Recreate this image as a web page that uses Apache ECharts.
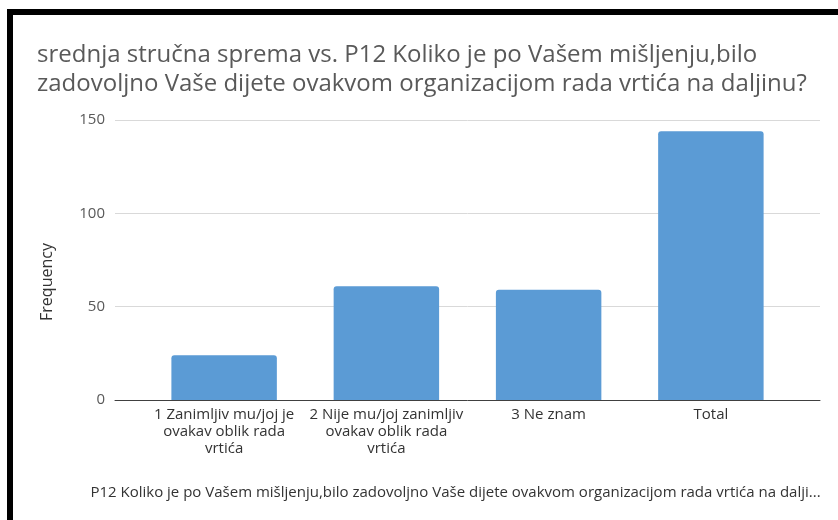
<!DOCTYPE html>
<html>
<head>
<meta charset="utf-8">
<script src="https://cdn.jsdelivr.net/npm/echarts@6/dist/echarts.min.js"></script>
<style>
  html, body { margin: 0; padding: 0; background: #fff; }
  #wrap { position: relative; width: 838px; height: 520px; }
  #chart { width: 838px; height: 520px; }
  #frame {
    position: absolute; left: 7px; top: 9px; right: 0; bottom: 0;
    border-top: 6px solid #000; border-left: 6px solid #000;
    pointer-events: none;
  }
</style>
</head>
<body>
<div id="wrap">
  <div id="chart"></div>
  <div id="frame"></div>
</div>
<script>
// chart data
const chartTitle = 'srednja stručna sprema vs. P12 Koliko je po Vašem mišljenju,bilo\nzadovoljno Vaše dijete ovakvom organizacijom rada vrtića na daljinu?'
const categories = [
  '1 Zanimljiv mu/joj je\novakav oblik rada\nvrtića',
  '2 Nije mu/joj zanimljiv\novakav oblik rada\nvrtića',
  '3 Ne znam',
  'Total'
]
const frequency = [24, 61, 59, 144]
const yMin = 0
const yMax = 150
const yStep = 50
const yName = 'Frequency'
const xName = 'P12 Koliko je po Vašem mišljenju,bilo zadovoljno Vaše dijete ovakvom organizacijom rada vrtića na dalji...'

const font = 'Open Sans'
const grey = '#595959'

const chart = echarts.init(document.getElementById('chart'), null, { renderer: 'canvas' })

chart.setOption({
  animation: false,
  textStyle: { fontFamily: font },
  title: {
    text: chartTitle,
    left: 32,
    top: 36,
    textStyle: {
      fontFamily: font,
      fontWeight: 'normal',
      fontSize: 24,
      lineHeight: 29,
      color: grey
    }
  },
  // grid 0 holds gridlines and axis line, grid 1 holds the bars (inset like Excel)
  grid: [
    { left: 115, right: 18, top: 120, bottom: 120 },
    { left: 143, right: 46, top: 120, bottom: 120 }
  ],
  xAxis: [
    {
      gridIndex: 0,
      type: 'value',
      min: 0,
      max: 1,
      axisLabel: { show: false },
      axisTick: { show: false },
      splitLine: { show: false },
      axisLine: { show: true, onZero: false, lineStyle: { color: '#404040', width: 1 } },
      name: xName,
      nameLocation: 'middle',
      nameGap: 85,
      nameTextStyle: { fontSize: 15, color: '#333', fontFamily: font, padding: [0, 24, 0, 0] }
    },
    {
      gridIndex: 1,
      type: 'category',
      data: categories,
      axisLine: { show: false },
      axisTick: { show: false },
      axisLabel: {
        interval: 0,
        margin: 6,
        fontSize: 15,
        lineHeight: 17,
        color: '#333',
        fontFamily: font
      }
    }
  ],
  yAxis: [
    {
      gridIndex: 0,
      type: 'value',
      min: yMin,
      max: yMax,
      interval: yStep,
      axisLine: { show: false },
      axisTick: { show: false },
      axisLabel: { fontSize: 15, color: grey, margin: 10, fontFamily: font },
      splitLine: { lineStyle: { color: '#d9d9d9', width: 1 } },
      name: yName,
      nameLocation: 'middle',
      nameGap: 60,
      nameTextStyle: { fontSize: 16, color: '#333', fontFamily: font, padding: [0, 44, 0, 0] }
    },
    {
      gridIndex: 1,
      type: 'value',
      min: yMin,
      max: yMax,
      interval: yStep,
      show: false
    }
  ],
  series: [{
    name: yName,
    type: 'bar',
    xAxisIndex: 1,
    yAxisIndex: 1,
    data: frequency,
    barCategoryGap: '35%',
    itemStyle: {
      color: '#5b9bd5',
      borderRadius: [3, 3, 0, 0]
    }
  }]
})
</script>
</body>
</html>
